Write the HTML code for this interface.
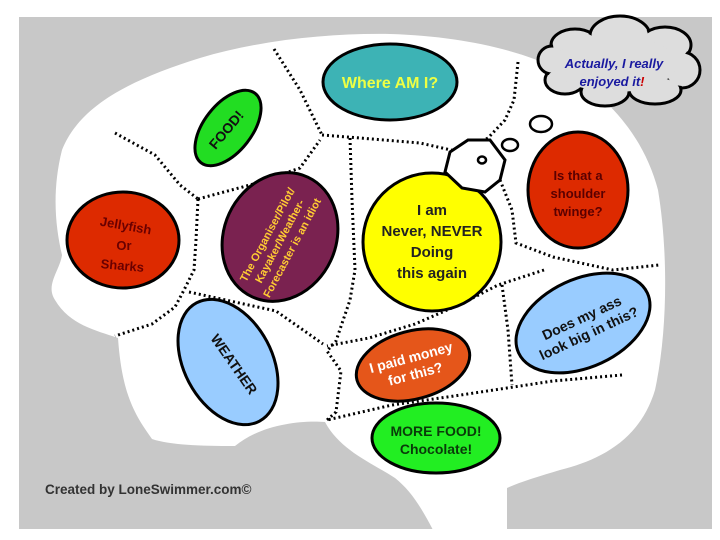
<!DOCTYPE html>
<html><head><meta charset="utf-8"><style>
html,body{margin:0;padding:0;background:#fff}
svg{display:block}
text{font-family:"Liberation Sans",Arial,sans-serif;font-weight:bold}
</style></head><body>
<svg width="720" height="540" viewBox="0 0 720 540" xmlns="http://www.w3.org/2000/svg">
<rect x="0" y="0" width="720" height="540" fill="#fff"/>
<rect x="19" y="17" width="693" height="512" fill="#c8c8c8"/>
<!-- brain -->
<path fill="#fff" d="M433,530 C420,505 410,490 395,478 C370,462 340,450 325,422 C300,420 260,425 235,446 C200,446 170,445 152,439 C135,415 122,395 118,338 C95,330 70,325 55,300 C45,285 60,270 62,255 C55,225 52,190 62,150 C80,105 130,80 200,58 C260,40 330,33 390,34 C460,36 520,50 560,70 C610,95 645,140 658,190 C668,250 668,330 655,390 C640,440 600,460 560,470 C540,476 520,482 507,488 L507,530 Z"/>
<!-- dotted lines -->
<g fill="none" stroke="#000" stroke-width="3" stroke-dasharray="2 3">
<polyline points="115,133 155,155 180,185 198,199"/>
<polyline points="198,199 250,185 300,168 320,140"/>
<polyline points="274,49 300,90 322,135"/>
<polyline points="322,135 360,138 420,143 460,152"/>
<polyline points="518,62 514,100 505,120 488,138 465,150"/>
<polyline points="350,138 352,200 355,270 350,300 336,341 327,351 341,371 336,412 327,420"/>
<polyline points="198,199 196,240 194,270 184,290 175,307 152,324 115,336"/>
<polyline points="189,292 276,311 323,344"/>
<polyline points="500,180 512,210 516,243 553,257 613,270 659,265"/>
<polyline points="544,270 498,285 461,304 415,324 369,338 327,346"/>
<polyline points="502,285 508,330 512,385"/>
<polyline points="622,375 553,381 461,395 392,405 327,420"/>
</g>
<!-- ellipses -->
<g stroke="#000" stroke-width="3">
<ellipse cx="390" cy="82" rx="67" ry="38" fill="#3db3b5"/>
<ellipse cx="228" cy="128" rx="44" ry="24" fill="#22dd22" transform="rotate(-52 228 128)"/>
<ellipse cx="123" cy="240" rx="56" ry="48" fill="#dd2a00"/>
<ellipse cx="280" cy="237" rx="56" ry="66" fill="#7a2250" transform="rotate(25 280 237)"/>
<circle cx="432" cy="242" r="69" fill="#ffff00"/>
<ellipse cx="578" cy="190" rx="50" ry="58" fill="#dd2a00"/>
<ellipse cx="228" cy="362" rx="44" ry="67" fill="#99ccff" transform="rotate(-28 228 362)"/>
<ellipse cx="413" cy="365" rx="58" ry="34" fill="#e5561a" transform="rotate(-15 413 365)"/>
<ellipse cx="583" cy="323" rx="71" ry="44" fill="#99ccff" transform="rotate(-25 583 323)"/>
<ellipse cx="436" cy="438" rx="64" ry="35" fill="#22ee22"/>
</g>
<!-- octagon + bubbles -->
<polygon points="450,152 468,140 490,140 505,160 500,180 485,192 462,188 445,172" fill="#fff" stroke="#000" stroke-width="3"/>
<ellipse cx="482" cy="160" rx="4" ry="3.5" fill="#fff" stroke="#000" stroke-width="2.5"/>
<ellipse cx="510" cy="145" rx="8" ry="6" fill="#fff" stroke="#000" stroke-width="2.5"/>
<ellipse cx="541" cy="124" rx="11" ry="8" fill="#fff" stroke="#000" stroke-width="2.5"/>
<!-- cloud -->
<g stroke="#000" stroke-width="3" fill="#ddd">
<ellipse cx="575" cy="45" rx="24" ry="16"/><ellipse cx="620" cy="36" rx="30" ry="20"/><ellipse cx="665" cy="45" rx="26" ry="18"/>
<ellipse cx="682" cy="70" rx="18" ry="18"/><ellipse cx="655" cy="90" rx="26" ry="14"/><ellipse cx="605" cy="92" rx="24" ry="14"/>
<ellipse cx="565" cy="80" rx="20" ry="14"/><ellipse cx="552" cy="60" rx="14" ry="14"/>
</g>
<g fill="#ddd">
<ellipse cx="575" cy="45" rx="22" ry="14"/><ellipse cx="620" cy="36" rx="28" ry="18"/><ellipse cx="665" cy="45" rx="24" ry="16"/>
<ellipse cx="682" cy="70" rx="16" ry="16"/><ellipse cx="655" cy="90" rx="24" ry="12"/><ellipse cx="605" cy="92" rx="22" ry="12"/>
<ellipse cx="565" cy="80" rx="18" ry="12"/><ellipse cx="552" cy="60" rx="12" ry="12"/><ellipse cx="615" cy="64" rx="62" ry="28"/>
</g>
<text x="614" y="68" font-size="13" font-style="italic" fill="#1a1aa0" text-anchor="middle">Actually, I really</text>
<text x="612" y="86" font-size="13" font-style="italic" fill="#1a1aa0" text-anchor="middle">enjoyed it<tspan fill="#c00">!</tspan></text>
<!-- labels -->
<text x="390" y="88" font-size="16" fill="#eeff44" text-anchor="middle">Where AM I?</text>
<text x="0" y="0" font-size="14" fill="#111" text-anchor="middle" transform="translate(230,133) rotate(-50)">FOOD!</text>
<g font-size="13" fill="#6a0000" text-anchor="middle">
<text x="0" y="0" transform="translate(125,230) rotate(10)">Jellyfish</text>
<text x="124" y="250">Or</text>
<text x="0" y="0" transform="translate(122,270) rotate(5)">Sharks</text>
</g>
<g font-size="11" fill="#ffcc33" text-anchor="middle" transform="translate(283,243) rotate(-62)">
<text x="0" y="-14">The Organiser/Pilot/</text>
<text x="0" y="0">Kayaker/Weather-</text>
<text x="0" y="14">Forecaster is an idiot</text>
</g>
<g font-size="15" fill="#222" text-anchor="middle">
<text x="432" y="215">I am</text>
<text x="432" y="236">Never, NEVER</text>
<text x="432" y="257">Doing</text>
<text x="432" y="278">this again</text>
</g>
<g font-size="13" fill="#5a0000" text-anchor="middle">
<text x="578" y="180">Is that a</text>
<text x="578" y="198">shoulder</text>
<text x="578" y="216">twinge?</text>
</g>
<text x="0" y="0" font-size="14" fill="#111" text-anchor="middle" transform="translate(230,367) rotate(55)">WEATHER</text>
<g font-size="14" fill="#fff" text-anchor="middle" transform="translate(413,365) rotate(-15)">
<text x="0" y="-3">I paid money</text>
<text x="0" y="14">for this?</text>
</g>
<g font-size="14" fill="#111" text-anchor="middle" transform="translate(585,325) rotate(-25)">
<text x="0" y="-3">Does my ass</text>
<text x="0" y="14">look big in this?</text>
</g>
<g font-size="14" fill="#0a3a0a" text-anchor="middle">
<text x="436" y="436">MORE FOOD!</text>
<text x="436" y="454">Chocolate!</text>
</g>
<text x="45" y="494" font-size="13.5" fill="#333">Created by LoneSwimmer.com©</text>
</svg>
</body></html>
